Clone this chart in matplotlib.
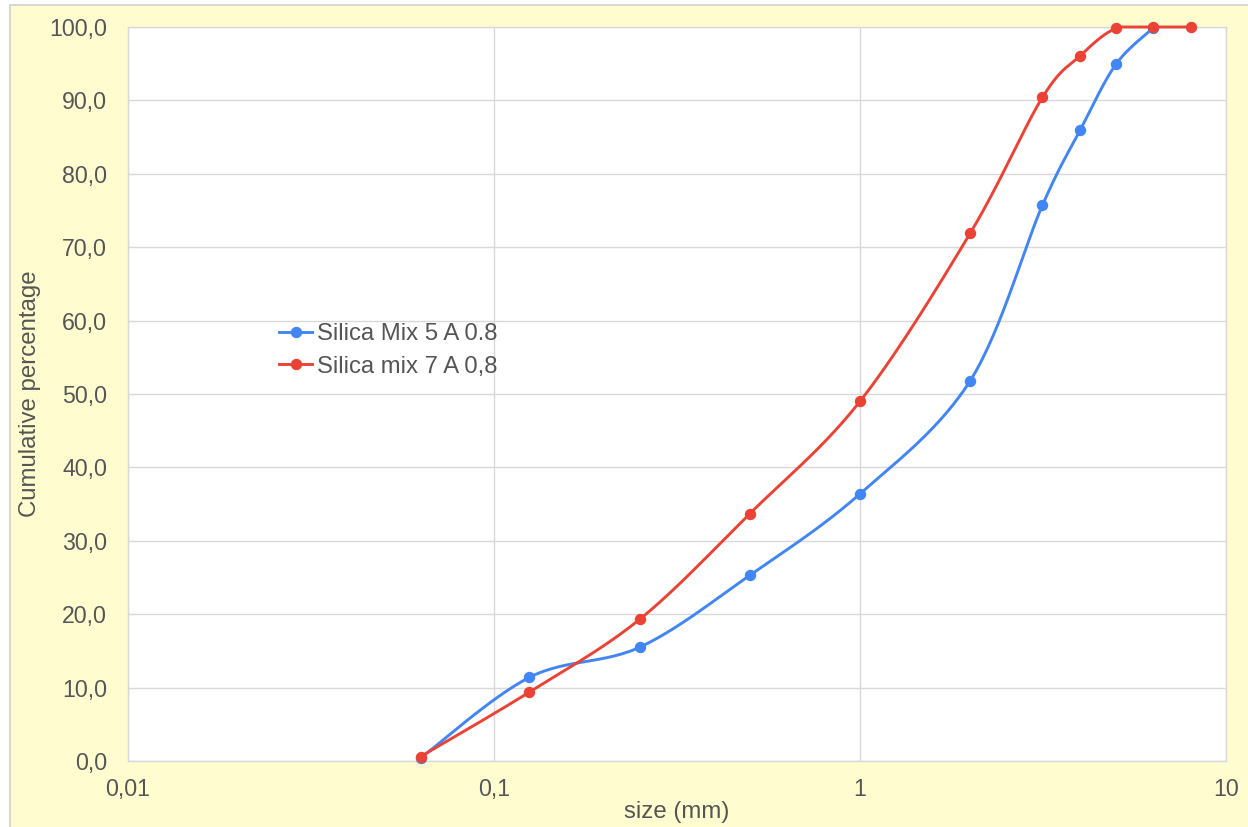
import numpy as np
import matplotlib
matplotlib.use('Agg')
from matplotlib import pyplot as plt
from matplotlib.patches import Rectangle
from matplotlib.ticker import FuncFormatter, FixedLocator

# sieve sizes (mm) and cumulative passing (%)
sizes_mix5 = [0.063, 0.125, 0.25, 0.5, 1, 2, 3.15, 4, 5, 6.3]
passing_mix5 = [0.4, 11.4, 15.5, 25.3, 36.4, 51.8, 75.7, 86.0, 94.9, 99.8]
sizes_mix7 = [0.063, 0.125, 0.25, 0.5, 1, 2, 3.15, 4, 5, 6.3, 8]
passing_mix7 = [0.6, 9.4, 19.3, 33.7, 49.0, 71.9, 90.4, 96.1, 99.8, 100.0, 100.0]

label_mix5 = 'Silica Mix 5 A 0.8'
label_mix7 = 'Silica mix 7 A 0,8'
x_ticks = [0.01, 0.1, 1, 10]
y_ticks = list(range(0, 101, 10))

BLUE = '#4285F4'
RED = '#EA4335'
TEXT = '#555555'
GRID = '#D9D9D9'
BG = '#FFFDD0'

plt.rcParams['font.family'] = ['Liberation Sans', 'DejaVu Sans']


def smooth(xs, ys, steps=30):
    """Catmull-Rom style bezier through the points (x on log scale).
    Returns curve and indices of the original points."""
    lx = np.log10(np.asarray(xs, float))
    y = np.asarray(ys, float)
    p = np.column_stack([lx, y])
    ext = np.vstack([p[0], p, p[-1]])
    t = np.linspace(0, 1, steps, endpoint=False)[:, None]
    pts = []
    idx = []
    for i in range(len(p) - 1):
        p0, p1, p2, p3 = ext[i], ext[i + 1], ext[i + 2], ext[i + 3]
        c1 = p1 + (p2 - p0) / 6
        c2 = p2 - (p3 - p1) / 6
        seg = ((1 - t) ** 3) * p1 + 3 * ((1 - t) ** 2) * t * c1 + 3 * (1 - t) * t ** 2 * c2 + t ** 3 * p2
        idx.append(len(pts))
        pts.extend(seg)
    idx.append(len(pts))
    pts.append(p[-1])
    pts = np.array(pts)
    # passing can't exceed 100 %
    return 10 ** pts[:, 0], np.minimum(pts[:, 1], 100), idx


fig = plt.figure(figsize=(12.48, 8.27), dpi=100)
fig.patch.set_facecolor('white')
# chart background panel with thin border
fig.patches.append(Rectangle((10 / 1248, -0.1), 1.2, 1 - 5 / 827 + 0.1, transform=fig.transFigure,
                             facecolor=BG, edgecolor='#D0D0D0', linewidth=1.2, zorder=-10))

ax = fig.add_axes([128 / 1248, 1 - 761 / 827, 1098 / 1248, 734 / 827])
ax.set_facecolor('white')
ax.set_xscale('log')
ax.set_xlim(0.01, 10)
ax.set_ylim(0, 100)

for xs, ys, col, lab in [(sizes_mix5, passing_mix5, BLUE, label_mix5),
                         (sizes_mix7, passing_mix7, RED, label_mix7)]:
    cx, cy, marks = smooth(xs, ys)
    ax.plot(cx, cy, color=col, lw=2.1, marker='o', ms=7.2, markevery=marks,
            label=lab, clip_on=False, zorder=3)

ax.xaxis.set_major_locator(FixedLocator(x_ticks))
ax.xaxis.set_minor_locator(FixedLocator([]))
ax.yaxis.set_major_locator(FixedLocator(y_ticks))
ax.xaxis.set_major_formatter(FuncFormatter(lambda v, pos: ('%g' % v).replace('.', ',')))
ax.yaxis.set_major_formatter(FuncFormatter(lambda v, pos: ('%.1f' % v).replace('.', ',')))
ax.tick_params(axis='both', length=0, labelsize=16.7, colors=TEXT)
ax.tick_params(axis='y', pad=15)
ax.tick_params(axis='x', pad=12)
ax.grid(True, color=GRID, lw=1)
ax.set_axisbelow(True)
for s in ax.spines.values():
    s.set_color(GRID)
    s.set_linewidth(1)

ax.set_xlabel('size (mm)', fontsize=17.3, color=TEXT)
ax.xaxis.set_label_coords(0.5, -0.054)
ax.set_ylabel('Cumulative percentage', fontsize=17.3, color=TEXT)
ax.yaxis.set_label_coords(-0.079, 0.5)

ax.legend(loc='upper left', bbox_to_anchor=(279 / 1248, 1 - 323 / 827),
          bbox_transform=fig.transFigure, frameon=False, fontsize=17.2,
          handlelength=1.4, handletextpad=0.2, borderpad=0, borderaxespad=0,
          labelspacing=0.45, labelcolor=TEXT)

fig.savefig('out.png', dpi=100, facecolor=fig.get_facecolor())
